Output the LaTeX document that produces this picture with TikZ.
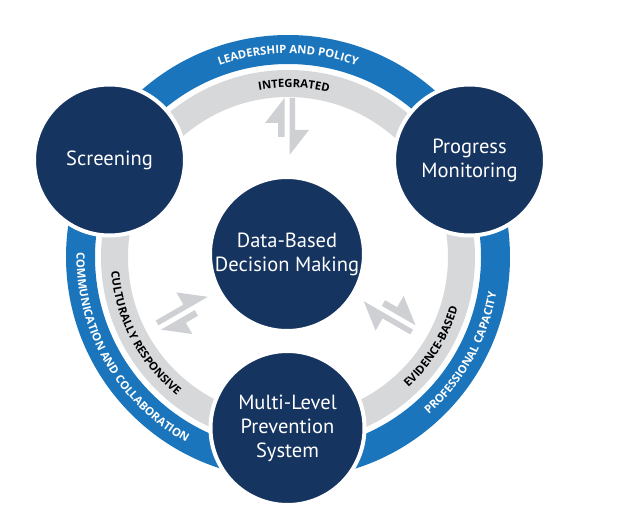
\documentclass[tikz,border=0pt]{standalone}
\usepackage{fontspec}
\setmainfont{PT Sans}
\newfontfamily\arcfamily{Open Sans}
\usetikzlibrary{decorations.text}
\definecolor{navy}{RGB}{22,52,96}
\definecolor{ringblue}{RGB}{27,117,188}
\definecolor{ringgray}{RGB}{215,216,218}
\definecolor{arrowgray}{RGB}{206,208,211}
\newcommand{\arcfont}{\arcfamily\fontsize{11.3}{13}\selectfont\bfseries}
\tikzset{
	hub/.style={circle, fill=navy, draw=white, line width=4pt, text=white, align=center, inner sep=0pt, font=\fontsize{20.5}{24}\selectfont},
	ringtext/.style={decorate, decoration={text along path, text align=center, text={#1}}}
}
\begin{document}
\begin{tikzpicture}[x=1pt, y=1pt] %Início da figura
	\useasboundingbox (0,0) rectangle (622,512);
	\coordinate (ring) at (288,255);
		%Anéis
	\fill[ringblue, even odd rule] (ring) circle (222) (ring) circle (193); %Anel azul
	\fill[ringgray, even odd rule] (ring) circle (187) (ring) circle (160); %Anel cinza
		%Textos dos anéis
	\path[ringtext={|\arcfont\color{white}|LEADERSHIP AND POLICY}] ([shift={(130:203.5)}]ring) arc[start angle=130, end angle=50, radius=203.5];
	\path[ringtext={|\arcfont\color{black}|INTEGRATED}] ([shift={(128:169.5)}]ring) arc[start angle=128, end angle=48, radius=169.5];
	\path[ringtext={|\arcfont\color{white}|COMMUNICATION AND COLLABORATION}] ([shift={(160:211.5)}]ring) arc[start angle=160, end angle=260, radius=211.5];
	\path[ringtext={|\arcfont\color{black}|CULTURALLY RESPONSIVE}] ([shift={(158:177.5)}]ring) arc[start angle=158, end angle=258, radius=177.5];
	\path[ringtext={|\arcfont\color{white}|PROFESSIONAL CAPACITY}] ([shift={(281:211.5)}]ring) arc[start angle=281, end angle=381, radius=211.5];
	\path[ringtext={|\arcfont\color{black}|EVIDENCE-BASED}] ([shift={(278:177.5)}]ring) arc[start angle=278, end angle=378, radius=177.5];
		%Círculos
	\node[hub, minimum size=151pt] (screen) at (109.5,352) {Screening};
	\node[hub, minimum size=151pt] (progress) at (469.5,352) {Progress\\Monitoring};
	\node[hub, minimum size=154pt] (dbdm) at (287,258) {Data-Based\\Decision Making};
	\node[hub, minimum size=154pt] (mlps) at (287.5,84) {Multi-Level\\Prevention\\System};
		%Setas duplas
	\foreach \ang/\dist in {0/127, 120/118, 240/118} {
		\begin{scope}[shift={(dbdm.center)}, rotate=\ang, shift={(0,\dist)}]
			\fill[arrowgray] (-2.5,29) -- (-22,4) -- (-9,4) -- (-9,-10) -- (-2.5,-10) -- cycle; %Para fora
			\fill[arrowgray] (2.5,29) -- (8,29) -- (8,-3) -- (22,-3) -- (2.5,-28) -- cycle; %Para dentro
		\end{scope}
	}
\end{tikzpicture}
\end{document}
